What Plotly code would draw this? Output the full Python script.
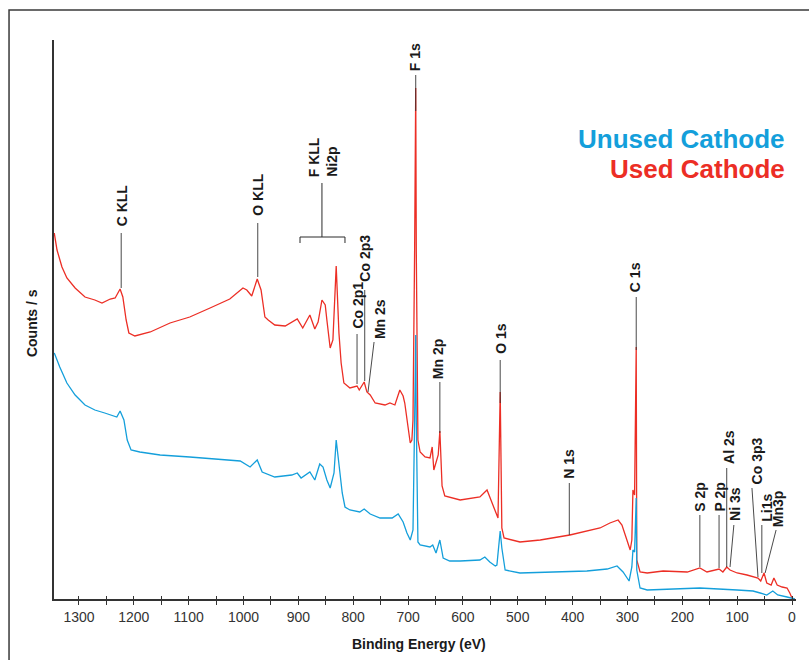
import plotly.graph_objects as go

# ---------------- data (binding energy in eV, counts in units of 100 counts/s) -------------
used_be = [1345, 1340, 1331, 1322, 1307, 1289, 1271, 1258, 1243, 1234, 1225, 1220, 1214, 1209,
           1198, 1170, 1134, 1098, 1061, 1025, 1001, 994, 985, 975, 968, 961, 955, 943, 924,
           912, 902, 892, 879, 870, 864, 857, 851, 848, 842, 837, 831, 826, 822, 817, 806, 793,
           789, 780, 775, 769, 760, 742, 733, 724, 715, 709, 706, 700, 696, 693, 691, 688, 686,
           685, 682, 678, 669, 660, 656, 653, 649, 645, 642, 638, 633, 605, 569, 556, 551, 541,
           536, 532, 529, 525, 496, 459, 405, 350, 332, 317, 310, 301, 295, 292, 290, 287, 284,
           283, 277, 264, 235, 191, 168, 155, 133, 126, 119, 113, 100, 82, 71, 62, 57, 51, 46,
           38, 33, 27, 18, 9, 4, 0, -5]
used_cps = [366, 349, 332, 321, 311, 302, 299, 296, 300, 301, 310, 302, 279, 266,
            263, 267, 276, 282, 291, 300, 311, 309, 303, 320, 309, 282, 279, 274, 273,
            277, 280, 271, 284, 270, 277, 299, 294, 279, 251, 259, 333, 266, 236, 216, 211, 213,
            209, 217, 207, 204, 196, 194, 196, 194, 209, 203, 196, 172, 156, 159, 179, 349, 511,
            349, 159, 147, 142, 141, 152, 129, 137, 144, 168, 113, 103, 99, 102, 109, 102, 88,
            81, 207, 71, 61, 57, 59, 64, 71, 76, 79, 74, 59, 49, 59, 109, 104, 252,
            39, 27, 26, 28, 27, 31, 27, 30, 27, 32, 29, 26, 24, 22, 21, 18, 26, 16,
            14, 21, 14, 12, 11, 6, 1, 0]

unused_be = [1345, 1335, 1322, 1307, 1289, 1271, 1253, 1240, 1231, 1225, 1218, 1212, 1205, 1189,
             1152, 1098, 1043, 1006, 988, 975, 966, 943, 912, 902, 895, 879, 870, 861, 855, 848,
             842, 835, 831, 826, 820, 815, 806, 788, 780, 769, 751, 729, 718, 709, 702, 696, 691,
             688, 686, 685, 682, 678, 660, 655, 649, 642, 636, 624, 605, 569, 560, 551, 541, 538,
             532, 529, 523, 496, 436, 374, 337, 319, 308, 301, 297, 292, 290, 287, 284, 283, 277,
             264, 191, 168, 100, 71, 58, 46, 35, 26, 9, -2, -5]
unused_cps = [246, 232, 216, 204, 194, 189, 186, 184, 182, 188, 179, 159, 149, 147,
              144, 142, 140, 138, 132, 139, 127, 122, 124, 126, 121, 127, 119, 135, 132, 119,
              111, 126, 159, 132, 106, 92, 89, 87, 90, 85, 81, 81, 85, 77, 66, 59, 69,
              179, 264, 179, 57, 54, 52, 54, 46, 59, 41, 38, 38, 39, 42, 37, 33, 34,
              68, 51, 29, 26, 27, 28, 30, 33, 27, 21, 18, 32, 49, 47, 101, 29, 11,
              9, 10, 11, 9, 8, 6, 4, 8, 4, 2, 1, 0]

# peak labels: name, text x (eV), text bottom (cps), leader top (x, cps), leader bottom (x, cps)
peak_names = ["C KLL", "O KLL", "F KLL", "Ni2p", "Co 2p1", "Co 2p3", "Mn 2s", "F 1s", "Mn 2p",
              "O 1s", "N 1s", "C 1s", "S 2p", "P 2p", "Al 2s", "Ni 3s", "Co 3p3", "Li1s", "Mn3p"]
peak_text_x = [1221, 974, 871, 839, 793, 780, 751, 687, 645, 532, 407, 286, 168, 133, 115, 104,
               64, 46, 26]
peak_text_y = [372, 382, 421, 421, 269, 316, 259, 527, 219, 244, 119, 306, 86, 86, 134, 77, 114,
               76, 71]
lead_x0 = [1223, 974, None, None, 793, 779, 762, 686, 642, 532, 406, 284, 168, 133, 119, 106, 73,
           55, 29]
lead_y0 = [366, 376, None, None, 265, 309, 257, 524, 217, 239, 116, 302, 84, 84, 131, 74, 111, 74,
           69]
lead_x1 = [1223, 974, None, None, 793, 779, 773, 686, 642, 532, 406, 284, 168, 133, 119, 113, 62,
           55, 49]
lead_y1 = [311, 322, None, None, 215, 218, 207, 488, 166, 196, 64, 249, 32, 31, 32, 32, 22, 26, 26]

# bracket for F KLL / Ni2p group
bracket_be = [897, 815]
bracket_stem_be = 857
bracket_cps = [416, 362, 356]

series_names = ["Unused Cathode", "Used Cathode"]
BLUE = "#149fdb"
RED = "#ec2e25"
INK = "#2b2b2b"
FONT = "Arial, Liberation Sans, Helvetica, sans-serif"

fig = go.Figure()
fig.add_trace(go.Scatter(x=used_be, y=used_cps, mode="lines", name=series_names[1],
                         line=dict(color=RED, width=1.3), hoverinfo="skip"))
fig.add_trace(go.Scatter(x=unused_be, y=unused_cps, mode="lines", name=series_names[0],
                         line=dict(color=BLUE, width=1.3), hoverinfo="skip"))
# invisible helper trace so the inner tick axis is drawn
fig.add_trace(go.Scatter(x=used_be, y=used_cps, mode="lines", xaxis="x2", opacity=0,
                         line=dict(width=0), hoverinfo="skip", showlegend=False))

shapes = []
annotations = []
for i, name in enumerate(peak_names):
    annotations.append(dict(x=peak_text_x[i], y=peak_text_y[i], xref="x", yref="y",
                            text=name, textangle=-90, showarrow=False,
                            xanchor="center", yanchor="bottom", borderpad=0,
                            font=dict(family=FONT, size=14, color="#1a1a1a", weight="bold")))
    if lead_x0[i] is not None:
        shapes.append(dict(type="line", xref="x", yref="y", x0=lead_x0[i], y0=lead_y0[i],
                           x1=lead_x1[i], y1=lead_y1[i], line=dict(color=INK, width=1),
                           layer="above", opacity=0.85))
# bracket
shapes.append(dict(type="line", xref="x", yref="y", x0=bracket_stem_be, x1=bracket_stem_be,
                   y0=bracket_cps[0], y1=bracket_cps[1], line=dict(color=INK, width=1)))
shapes.append(dict(type="line", xref="x", yref="y", x0=bracket_be[0], x1=bracket_be[1],
                   y0=bracket_cps[1], y1=bracket_cps[1], line=dict(color=INK, width=1)))
for b in bracket_be:
    shapes.append(dict(type="line", xref="x", yref="y", x0=b, x1=b,
                       y0=bracket_cps[1], y1=bracket_cps[2], line=dict(color=INK, width=1)))

# outer frame (left and top visible)
shapes.append(dict(type="rect", xref="paper", yref="paper", x0=-0.0606, x1=1.05,
                   y0=-0.15, y1=1.0537, line=dict(color="#3a3a3a", width=1.5),
                   fillcolor="rgba(0,0,0,0)", layer="below"))

# series labels
annotations.append(dict(x=0.988, y=0.823, xref="paper", yref="paper", text=series_names[0],
                        showarrow=False, xanchor="right", yanchor="middle",
                        font=dict(family=FONT, size=26, color=BLUE, weight="bold")))
annotations.append(dict(x=0.988, y=0.769, xref="paper", yref="paper", text=series_names[1],
                        showarrow=False, xanchor="right", yanchor="middle",
                        font=dict(family=FONT, size=26, color=RED, weight="bold")))
# axis titles
annotations.append(dict(x=0.492, y=-0.0805, xref="paper", yref="paper",
                        text="Binding Energy (eV)", showarrow=False,
                        xanchor="center", yanchor="middle",
                        font=dict(family=FONT, size=14, color="#1a1a1a", weight="bold")))
annotations.append(dict(x=-0.0296, y=0.4937, xref="paper", yref="paper",
                        text="Counts / s", showarrow=False, textangle=-90,
                        xanchor="center", yanchor="middle",
                        font=dict(family=FONT, size=14, color="#1a1a1a", weight="bold")))

XR = [1345.5, -7.3]
fig.update_layout(
    width=809, height=660,
    margin=dict(l=54, r=13, t=40, b=61),
    paper_bgcolor="white", plot_bgcolor="white",
    showlegend=False,
    shapes=shapes, annotations=annotations,
    font=dict(family=FONT, color="#333333"),
    xaxis=dict(range=XR, showline=True, linecolor="#333333", linewidth=1.6,
               showgrid=False, zeroline=False, ticks="outside", ticklen=4, tickwidth=1.3,
               tickcolor="#333333", dtick=100, tick0=0,
               tickfont=dict(family=FONT, size=14, color="#333333"),
               minor=dict(dtick=50, tick0=0, ticks="outside", ticklen=4, tickwidth=1.3,
                          tickcolor="#333333", showgrid=False)),
    xaxis2=dict(range=XR, overlaying="x", anchor="y", side="bottom", showline=False,
                showgrid=False, zeroline=False, ticks="inside", ticklen=3, tickwidth=1.3,
                tickcolor="#333333", dtick=50, tick0=0, showticklabels=False),
    yaxis=dict(range=[0, 559], showline=True, linecolor="#333333", linewidth=1.6,
               showgrid=False, zeroline=False, ticks="", showticklabels=False),
)

fig.write_html("out.html")
